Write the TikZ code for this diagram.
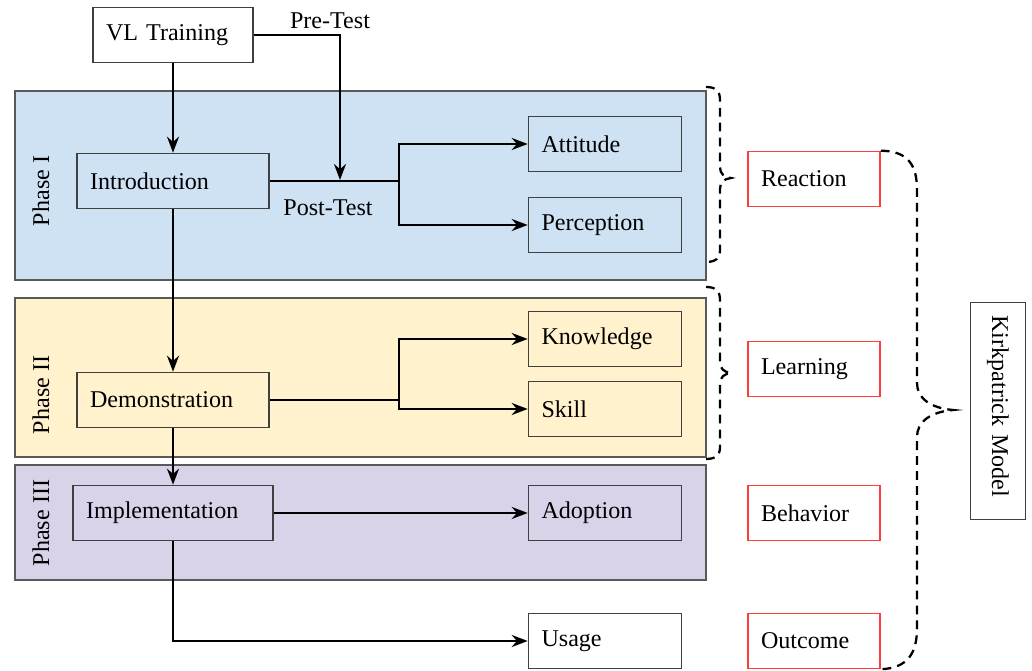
\documentclass[tikz,border=0pt]{standalone}
\usepackage{fontspec}
\setmainfont{Liberation Serif}
\usetikzlibrary{arrows.meta}
\definecolor{phaseone}{RGB}{207,226,243}
\definecolor{phasetwo}{RGB}{255,242,204}
\definecolor{phasethree}{RGB}{217,210,233}
\definecolor{panelline}{RGB}{89,89,89}
\definecolor{levelred}{RGB}{255,60,60}
\tikzset{
  stagebox/.style={draw=black!75, line width=0.9pt, minimum height=1.1cm,
    inner xsep=0.26cm, align=left, text width=#1},
  levelbox/.style={stagebox=#1, draw=levelred},
  flow/.style={line width=1.4pt, -{Stealth[length=3.2mm, width=2.4mm]}},
  link/.style={line width=1.4pt},
  bracket/.style={line width=1.3pt, dash pattern=on 5pt off 3.5pt},
  panel/.style={draw=panelline, line width=0.9pt}
}
\begin{document}
\begin{tikzpicture}[x=0.02cm, y=-0.02cm, font=\fontsize{13.7}{16}\selectfont]
  \useasboundingbox (0,0) rectangle (1032,671);

  % Phase panels
  \draw[panel, fill=phaseone] (15,91) rectangle (706,280);
  \draw[panel, fill=phasetwo] (15,298) rectangle (706,457);
  \draw[panel, fill=phasethree] (15,465) rectangle (706,580);
  \node[rotate=90] (ph1) at (41,191) {Phase I};
  \node[rotate=90] (ph2) at (41,395) {Phase II};
  \node[rotate=90] (ph3) at (41,523) {Phase III};

  % Training stages
  \node[stagebox=2.68cm, fill=white] (vl) at (173,35) {VL Training};
  \node[stagebox=3.32cm] (intro) at (173,181) {Introduction};
  \node[stagebox=3.32cm] (demo) at (173,400) {Demonstration};
  \node[stagebox=3.48cm] (impl) at (173,513) {Implementation};

  % Outcomes
  \node[stagebox=2.54cm] (att) at (605,144) {Attitude};
  \node[stagebox=2.54cm] (perc) at (605,225) {Perception};
  \node[stagebox=2.54cm] (know) at (605,339) {Knowledge};
  \node[stagebox=2.54cm] (skill) at (605,409) {Skill};
  \node[stagebox=2.54cm] (adopt) at (605,513) {Adoption};
  \node[stagebox=2.54cm, fill=white] (usage) at (605,641) {Usage};

  % Kirkpatrick levels
  \node[levelbox=2.12cm] (reac) at (814,179) {Reaction};
  \node[levelbox=2.12cm] (learn) at (814,369) {Learning};
  \node[levelbox=2.12cm] (behav) at (814,513) {Behavior};
  \node[levelbox=2.12cm] (outc) at (814,641) {Outcome};
  \node[draw=black!75, line width=0.9pt, rotate=-90, minimum width=4.34cm,
    minimum height=1.1cm, inner xsep=0.26cm, text width=3.82cm, align=left]
    (kirk) at (998,411) {Kirkpatrick Model};

  % Test labels
  \node (pre) at (330,21) {Pre-Test};
  \node (post) at (328,208) {Post-Test};

  % Connectors
  \coordinate (pretip) at (340,180);
  \coordinate (split1) at (399,181);
  \coordinate (split2) at (399,400);
  \draw[flow] (vl.south) -- (intro.north);
  \draw[flow] (vl.east) -| (pretip);
  \draw[link] (intro.east) -- (split1);
  \draw[flow] (split1) |- (att.west);
  \draw[flow] (split1) |- (perc.west);
  \draw[flow] (intro.south) -- (demo.north);
  \draw[link] (demo.east) -- (split2);
  \draw[flow] (split2) |- (know.west);
  \draw[flow] (split2) |- (skill.west);
  \draw[flow] (demo.south) -- (impl.north);
  \draw[flow] (impl.east) -- (adopt.west);
  \draw[flow] (impl.south) |- (usage.west);

  % Braces
  \draw[bracket] (706,87) .. controls (716,87) and (720,91) .. (720,100)
    -- (720,167) .. controls (720,174) and (724,177) .. (731,178)
    .. controls (724,179) and (720,182) .. (720,189)
    -- (720,250) .. controls (720,258) and (716,262) .. (706,262);
  \draw[bracket] (706,287) .. controls (716,287) and (720,291) .. (720,300)
    -- (720,362) .. controls (720,369) and (724,372) .. (731,373)
    .. controls (724,374) and (720,377) .. (720,384)
    -- (720,447) .. controls (720,455) and (716,459) .. (706,459);
  \draw[bracket] (reac.north east) .. controls (908,151) and (917,165) .. (917,190)
    -- (917,383) .. controls (917,398) and (930,408) .. (953,410)
    .. controls (930,412) and (917,422) .. (917,437)
    -- (917,628) .. controls (917,653) and (908,668) .. (outc.south east);
\end{tikzpicture}
\end{document}
